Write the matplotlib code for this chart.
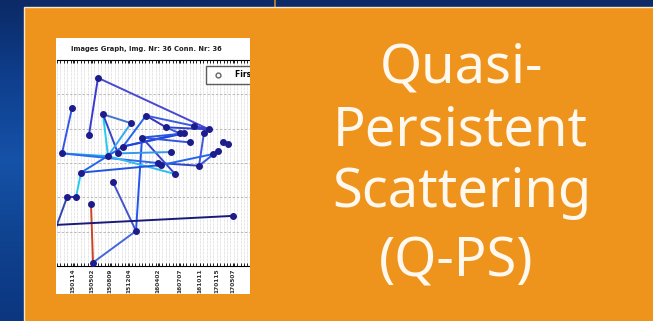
#slide panel with a small interferogram network graph and the Q-PS heading

import numpy as np
import matplotlib
import matplotlib.pyplot as plt
from matplotlib.patches import Rectangle
from matplotlib.lines import Line2D
from matplotlib.ticker import MultipleLocator, FixedLocator

matplotlib.use('Agg') #no display here

#network nodes: x = position along the time axis, y = baseline [m]
node_names = ['A', 'B', 'C', 'D', 'E', 'F', 'G', 'H', 'I', 'J', 'K', 'L', 'M',
              'N1', 'N2', 'O1', 'O2', 'P', 'Q', 'R', 'S', 'T', 'U', 'V1', 'V2',
              'W', 'X', 'Y', 'Z', 'a1', 'a2', 'b', 'c', 'e', 'f', 'd', 'g']
node_x = [41, 15, 32, 46, 74, 89, 109, 123, 127, 137, 152, 147, 133,
          166, 171, 161, 156, 114, 85, 66, 61, 51, 5, 101, 104,
          142, 118, 24, 56, 10, 19, 34, 176, 79, 36, -12, -6]
node_y = [124, 80, 41, 71, 58, 69, 52, 43, 43, 54, 49, 44, 30,
          31, 28, 18, 13, 16, 37, 24, 14, 10, 14, 0, -3,
          -4, -16, -14, -28, -50, -50, -60, -77, -99, -145, -91, -114]

#connections between nodes
edge_from = ['A', 'A', 'B', 'D', 'D', 'D', 'F', 'F', 'F', 'E', 'G', 'G', 'J', 'K',
             'L', 'H', 'R', 'R', 'Q', 'Q', 'Q', 'U', 'U', 'T', 'Y', 'Y', 'Y', 'a1',
             'a1', 'Z', 'e', 'b', 'd', 'V1', 'V2', 'W', 'N1', 'S', 'Q', 'O1']
edge_to = ['C', 'K', 'U', 'E', 'T', 'S', 'R', 'G', 'J', 'T', 'H', 'K', 'K', 'L',
           'W', 'I', 'H', 'I', 'M', 'X', 'e', 'T', 'V1', 'X', 'V2', 'R', 'a2', 'a2',
           'g', 'e', 'f', 'f', 'c', 'W', 'O2', 'O1', 'N2', 'P', 'I', 'O2']
edge_colors = ['#3a3ad0', '#4848d0', '#3355ee', '#4477cc', '#22ccee', '#3344cc',
               '#2266ee', '#3333bb', '#3a5ae0', '#33aaee', '#3355dd', '#3344cc',
               '#3344cc', '#3344cc', '#4455dd', '#2233aa', '#2255ee', '#2244dd',
               '#3355dd', '#3344cc', '#2255ee', '#22aaee', '#2a6aee', '#33bbee',
               '#2255dd', '#2266ee', '#22ccee', '#2233aa', '#3344aa', '#4455cc',
               '#4466dd', '#cc4422', '#1a1a7a', '#3344cc', '#2266ee', '#3355dd',
               '#3344cc', '#3399ee', '#2a55dd', '#2244cc']

#x tick labels (acquisition dates)
tick_pos = [16, 35, 53, 72, 101, 123, 143, 160, 176]
tick_labels = ['150114', '150502', '150809', '151204', '160402',
               '160707', '161011', '170115', '170507']

orange = '#ee941c'

fig = plt.figure(figsize=(6.53, 3.21), dpi=100)

#background layer in pixel coordinates
bg = fig.add_axes([0, 0, 1, 1])
bg.set_xlim(0, 653)
bg.set_ylim(321, 0)
bg.axis('off')
grad = np.linspace(0, 1, 200).reshape(-1, 1)
blues = matplotlib.colors.LinearSegmentedColormap.from_list(
    'bl', ['#0b2a66', '#0f3f8e', '#1552a8', '#0f428f', '#0c3680'])
bg.imshow(grad, cmap=blues, extent=(0, 653, 321, 0), aspect='auto', zorder=0)
bg.plot([275, 275], [0, 7], color='#c98a2a', lw=1.2, zorder=1)
bg.add_patch(Rectangle((24, 6.5), 640, 320, facecolor=orange,
                       edgecolor='#f6e6cc', lw=1.0, zorder=2))
bg.add_patch(Rectangle((56, 38), 194, 256, facecolor='white', edgecolor='none', zorder=3))
bg.text(146, 49, 'Images Graph, Img. Nr: 36 Conn. Nr: 36', ha='center', va='center',
        fontsize=4.9, fontweight='bold', color='#222222', zorder=4)

#heading
title_font = dict(family='Noto Sans', fontsize=39, color='#fff8ee', ha='center', va='baseline', zorder=4)
bg.text(461, 83, 'Quasi-', **title_font)
bg.text(460, 145, 'Persistent', **title_font)
bg.text(462, 207, 'Scattering', **title_font)
bg.text(456, 277, '(Q-PS)', **title_font)

#network graph
ax = fig.add_axes([57 / 653, (321 - 266) / 321, (275 - 57) / 653, (266 - 60) / 321])
ax.set_xlim(0, 218)
ax.set_ylim(-150, 150)
ax.set_facecolor('white')

pos = {n: (x, y) for n, x, y in zip(node_names, node_x, node_y)}
for a, b, col in zip(edge_from, edge_to, edge_colors):
    ax.plot([pos[a][0], pos[b][0]], [pos[a][1], pos[b][1]], '-', color=col, lw=1.4, zorder=2)
ax.plot(node_x, node_y, 'o', color='#1c1c8c', markersize=4, zorder=3)

ax.xaxis.set_major_locator(FixedLocator(tick_pos))
ax.set_xticklabels(tick_labels, rotation=90, fontsize=4.2, fontweight='bold', color='#333333')
ax.xaxis.set_minor_locator(MultipleLocator(3.4))
ax.yaxis.set_major_locator(FixedLocator([-100, -50, 0, 50, 100]))
ax.set_yticklabels([])
ax.tick_params(axis='x', which='both', direction='in', top=True, length=2.5, width=0.6, pad=2)
ax.tick_params(axis='y', length=0)
ax.grid(axis='x', which='minor', color='#c8c8c8', lw=0.5, ls=(0, (1, 1)))
ax.grid(axis='y', which='major', color='#b0b0b0', lw=0.6, ls=(0, (3, 2)))
for side in ['left', 'right']:
    ax.spines[side].set_visible(False)
ax.spines['top'].set_linewidth(0.8)
ax.spines['bottom'].set_linewidth(0.8)

first = Line2D([], [], marker='o', ls='none', mfc='none', mec='#666666', markersize=3.5)
ax.legend([first], ['First Image'], loc='upper left',
          bbox_to_anchor=((202 - 57) / 218, (266 - 62) / 206),
          frameon=True, fancybox=False, edgecolor='#333333',
          borderpad=0.6, handletextpad=1.2, prop={'weight': 'bold', 'size': 5.5})

#mask the part of the graph beyond the cropped edge
top = fig.add_axes([0, 0, 1, 1])
top.set_xlim(0, 653)
top.set_ylim(321, 0)
top.axis('off')
top.add_patch(Rectangle((250, 36), 80, 260, facecolor=orange, edgecolor='none'))

fig.savefig('out.png', dpi=100)
